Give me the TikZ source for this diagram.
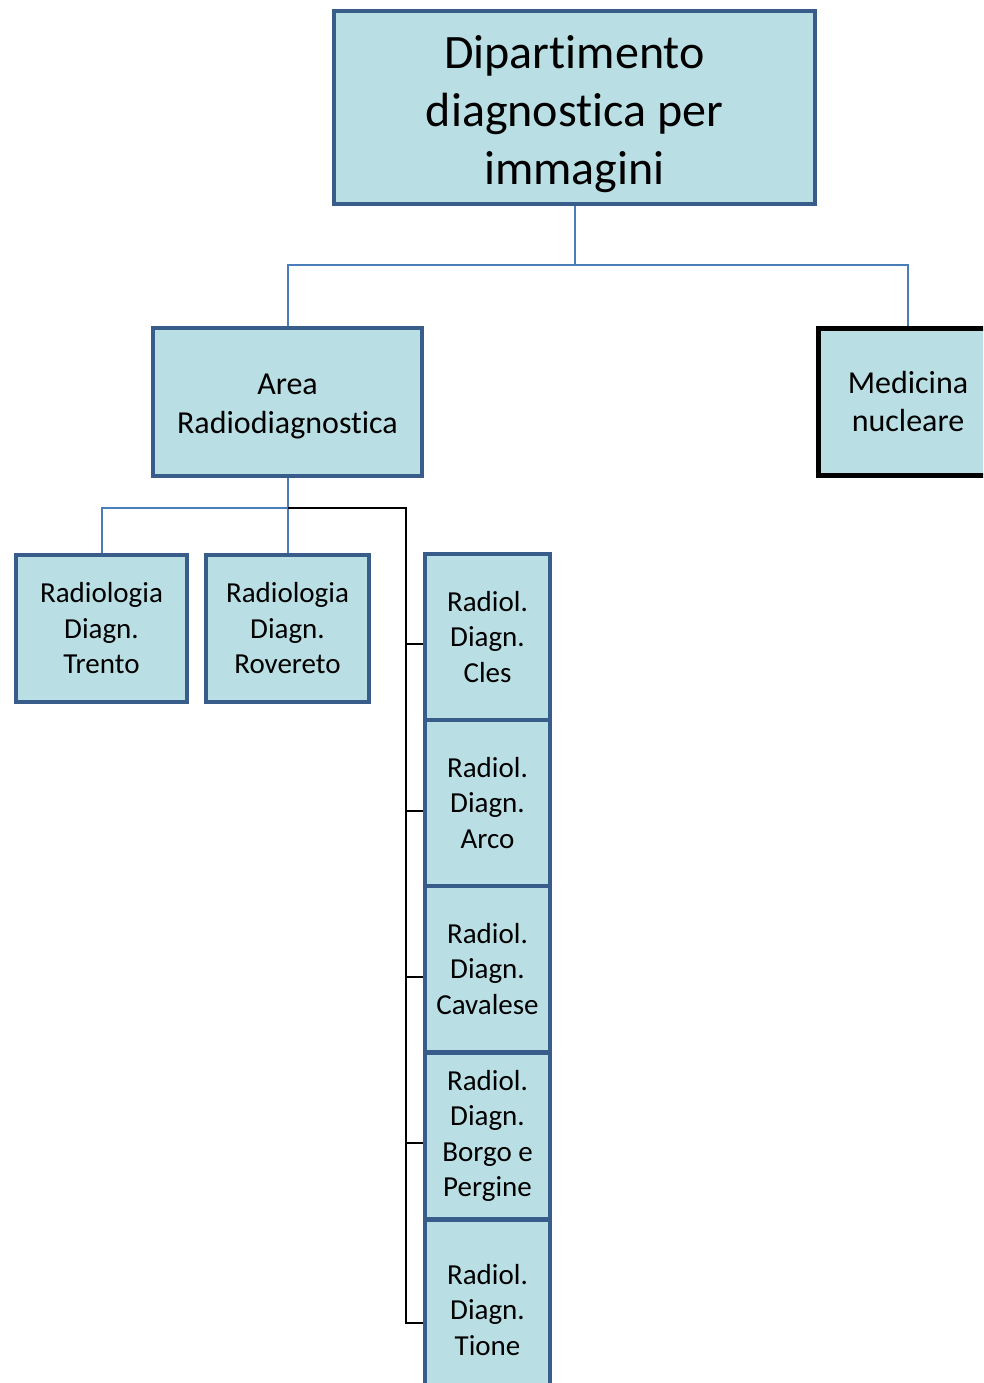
\documentclass[tikz,border=0pt]{standalone}
\usepackage{fontspec}
\setmainfont{Carlito}[Ligatures=NoCommon]
\usepackage{tikz}
\usetikzlibrary{positioning, calc}
\definecolor{boxfill}{RGB}{185, 223, 228}
\definecolor{boxline}{RGB}{56, 93, 138}
\definecolor{linkblue}{RGB}{74, 126, 187}

\begin{document}
\begin{tikzpicture}[
    x=1pt, y=-1pt,
    unit/.style={draw=boxline, fill=boxfill, line width=4pt, align=center, inner sep=0pt},
    sede/.style={unit, minimum width=125pt, minimum height=166pt, font=\fontsize{29}{35.5}\selectfont},
    link/.style={draw=linkblue, line width=2pt},
    bus/.style={draw=black, line width=2pt},
]
    \useasboundingbox (0,0) rectangle (983,1383);
    \clip (0,0) rectangle (983,1383);

    % Dipartimento
    \node[unit, minimum width=481pt, minimum height=193pt, font=\fontsize{48}{58}\selectfont] (dip) at (574.5, 107.5) {\rule{0pt}{46pt}Dipartimento\\diagnostica per\\immagini};

    % Aree
    \node[unit, minimum width=269pt, minimum height=148pt, font=\fontsize{32}{39}\selectfont] (area) at (287.5, 402) {\rule{0pt}{29pt}Area\\Radiodiagnostica};
    \node[unit, draw=black, line width=5pt, minimum width=179pt, minimum height=147pt, font=\fontsize{32}{38}\selectfont] (nuc) at (908, 402) {Medicina\\nucleare};

    % Radiologie
    \node[unit, minimum width=171pt, minimum height=147pt, font=\fontsize{29}{35.5}\selectfont] (trento) at (101.5, 628.5) {Radiologia\\Diagn.\\Trento};
    \node[unit, minimum width=163pt, minimum height=147pt, font=\fontsize{29}{35.5}\selectfont] (rovereto) at (287.5, 628.5) {Radiologia\\Diagn.\\Rovereto};

    % Sedi periferiche
    \node[sede] (cles) at (487.5, 637) {Radiol.\\Diagn.\\Cles};
    \node[sede] (arco) at (487.5, 803) {Radiol.\\Diagn.\\Arco};
    \node[sede] (cavalese) at (487.5, 969) {Radiol.\\Diagn.\\Cavalese};
    \node[sede] (borgo) at (487.5, 1136) {Radiol.\\Diagn.\\Borgo e\\Pergine};
    \node[sede, minimum height=180pt] (tione) at (487.5, 1310) {Radiol.\\Diagn.\\Tione};

    % Collegamenti
    \draw[link] (dip.south) -- ++(0, 59) coordinate (split) -| (area.north);
    \draw[link] (split) -| (nuc.north);
    \draw[link] (area.south) -- ++(0, 30) coordinate (fork) -| (trento.north);
    \draw[link] (fork) -- (rovereto.north);
    \draw[bus] (fork) -| ([xshift=-17pt, yshift=-13pt]tione.west) -- ([yshift=-13pt]tione.west);
    \foreach \n/\s in {cles/7, arco/8, cavalese/8, borgo/7}
        \draw[bus] ([yshift=-\s pt]\n.west) -- ++(-17, 0);

\end{tikzpicture}
\end{document}
